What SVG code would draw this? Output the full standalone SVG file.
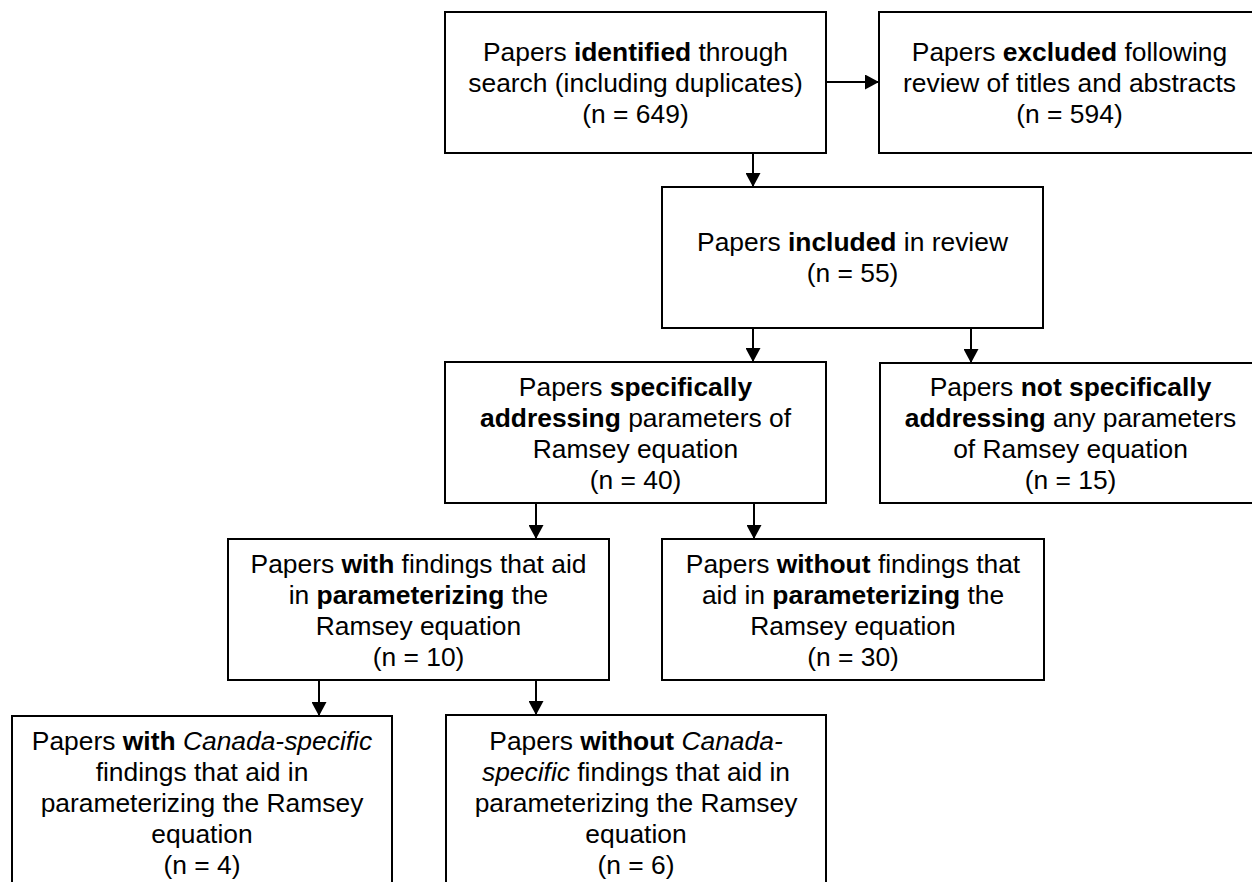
<svg xmlns="http://www.w3.org/2000/svg" width="1252" height="882" viewBox="0 0 1252 882">
<defs>
<style>
.box{fill:#fff;stroke:#000;stroke-width:2}
text{font-family:"Liberation Sans",Arial,sans-serif;font-size:26.4px;fill:#000;text-anchor:middle}
.b{font-weight:bold}
.i{font-style:italic}
.c{stroke:#000;stroke-width:2;fill:none;marker-end:url(#ah)}
</style>
<marker id="ah" viewBox="0 0 14 15" refX="14" refY="7.5" markerWidth="14" markerHeight="15" markerUnits="userSpaceOnUse" orient="auto">
<path d="M0,0 L14,7.5 L0,15 Z" fill="#000"/>
</marker>
</defs>
<rect width="1252" height="882" fill="#fff"/>
<g id="connectors">
<line class="c" x1="826" y1="82" x2="879" y2="82"/>
<line class="c" x1="753" y1="153" x2="753" y2="187"/>
<line class="c" x1="753" y1="328" x2="753" y2="362"/>
<line class="c" x1="971" y1="328" x2="971" y2="363"/>
<line class="c" x1="536" y1="503" x2="536" y2="539"/>
<line class="c" x1="754" y1="503" x2="754" y2="539"/>
<line class="c" x1="319" y1="680" x2="319" y2="716"/>
<line class="c" x1="536" y1="680" x2="536" y2="715"/>
</g>
<g id="n1">
<rect class="box" x="445" y="12" width="381" height="141"/>
<text x="635.5" y="61">Papers <tspan class="b">identified</tspan> through</text>
<text x="635.5" y="92">search (including duplicates)</text>
<text x="635.5" y="123">(n = 649)</text>
</g>
<g id="n2">
<rect class="box" x="879" y="12" width="381" height="141"/>
<text x="1069.5" y="61">Papers <tspan class="b">excluded</tspan> following</text>
<text x="1069.5" y="92">review of titles and abstracts</text>
<text x="1069.5" y="123">(n = 594)</text>
</g>
<g id="n3">
<rect class="box" x="662" y="187" width="381" height="141"/>
<text x="852.5" y="251">Papers <tspan class="b">included</tspan> in review</text>
<text x="852.5" y="282">(n = 55)</text>
</g>
<g id="n4">
<rect class="box" x="445" y="362" width="381" height="141"/>
<text x="635.5" y="395.5">Papers <tspan class="b">specifically</tspan></text>
<text x="635.5" y="426.5"><tspan class="b">addressing</tspan> parameters of</text>
<text x="635.5" y="457.5">Ramsey equation</text>
<text x="635.5" y="488.5">(n = 40)</text>
</g>
<g id="n5">
<rect class="box" x="880" y="363" width="381" height="140"/>
<text x="1070.5" y="396">Papers <tspan class="b">not specifically</tspan></text>
<text x="1070.5" y="427"><tspan class="b">addressing</tspan> any parameters</text>
<text x="1070.5" y="458">of Ramsey equation</text>
<text x="1070.5" y="489">(n = 15)</text>
</g>
<g id="n6">
<rect class="box" x="228" y="539" width="381" height="141"/>
<text x="418.5" y="572.5">Papers <tspan class="b">with</tspan> findings that aid</text>
<text x="418.5" y="603.5">in <tspan class="b">parameterizing</tspan> the</text>
<text x="418.5" y="634.5">Ramsey equation</text>
<text x="418.5" y="665.5">(n = 10)</text>
</g>
<g id="n7">
<rect class="box" x="662" y="539" width="382" height="141"/>
<text x="853" y="572.5">Papers <tspan class="b">without</tspan> findings that</text>
<text x="853" y="603.5">aid in <tspan class="b">parameterizing</tspan> the</text>
<text x="853" y="634.5">Ramsey equation</text>
<text x="853" y="665.5">(n = 30)</text>
</g>
<g id="n8">
<rect class="box" x="12" y="716" width="380" height="172"/>
<text x="202" y="749.5">Papers <tspan class="b">with</tspan> <tspan class="i">Canada-specific</tspan></text>
<text x="202" y="780.5">findings that aid in</text>
<text x="202" y="811.5">parameterizing the Ramsey</text>
<text x="202" y="842.5">equation</text>
<text x="202" y="873.5">(n = 4)</text>
</g>
<g id="n9">
<rect class="box" x="446" y="715" width="380" height="173"/>
<text x="636" y="749.5">Papers <tspan class="b">without</tspan> <tspan class="i">Canada-</tspan></text>
<text x="636" y="780.5"><tspan class="i">specific</tspan> findings that aid in</text>
<text x="636" y="811.5">parameterizing the Ramsey</text>
<text x="636" y="842.5">equation</text>
<text x="636" y="873.5">(n = 6)</text>
</g>
</svg>
